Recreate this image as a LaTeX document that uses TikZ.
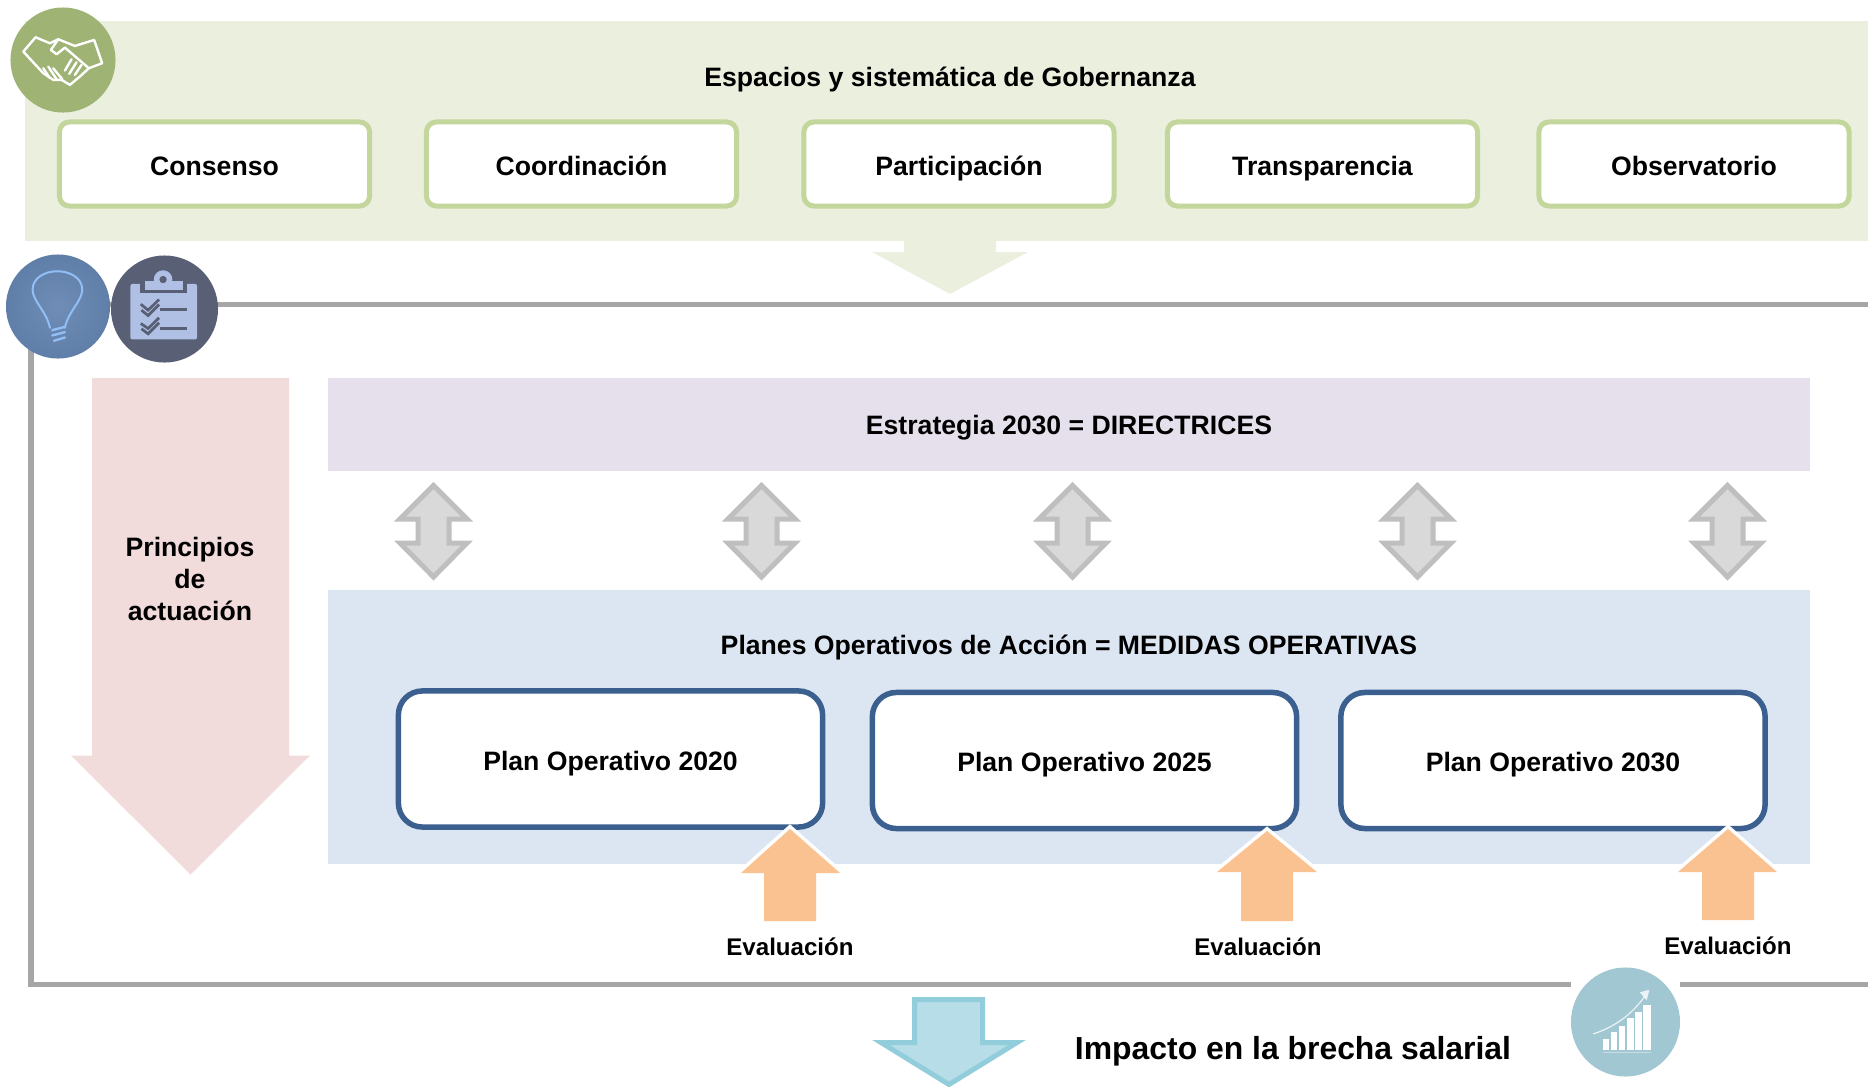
\documentclass[tikz,border=0pt]{standalone}
\usepackage{fontspec}
\setmainfont{Liberation Sans}
\usepackage{tikz}
\usetikzlibrary{arrows,shapes,positioning}
\definecolor{panelgreen}{HTML}{EBEFDE}
\definecolor{boxgreen}{HTML}{C3D69B}
\definecolor{iconggreen}{HTML}{9FB374}
\definecolor{panelpink}{HTML}{F2DCDB}
\definecolor{panelpurple}{HTML}{E5E0EC}
\definecolor{panelblue}{HTML}{DCE6F2}
\definecolor{boxblue}{HTML}{3B6090}
\definecolor{arroworange}{HTML}{FBC291}
\definecolor{arrowgray}{HTML}{D9D9D9}
\definecolor{arrowgrayline}{HTML}{BFBFBF}
\definecolor{arrowcyan}{HTML}{B7DDE8}
\definecolor{arrowcyanline}{HTML}{92CDDC}
\definecolor{framegray}{HTML}{A6A6A6}
\definecolor{frameshade}{HTML}{E6E6E6}
\definecolor{iconblue}{HTML}{5F7EA8}
\definecolor{iconbluein}{HTML}{6F8DB6}
\definecolor{icondark}{HTML}{595F75}
\definecolor{iconlight}{HTML}{AFC0E4}
\definecolor{iconbulb}{HTML}{90BEF5}
\definecolor{iconteal}{HTML}{A1C7D2}
\tikzset{
  boldtext/.style={font=\bfseries\fontsize{7.57}{9.1}\selectfont,text=black,align=center},
  linetext/.style={boldtext,text height=5.5pt,text depth=0pt},
  greenbox/.style={boldtext,text height=6.3pt,text depth=0pt,draw=boxgreen,line width=.05cm,fill=white,rounded corners=.1cm,
    minimum width=3.1cm,minimum height=.84cm},
  planbox/.style={boldtext,text height=6.3pt,text depth=0pt,draw=boxblue,line width=.055cm,fill=white,rounded corners=.24cm,
    minimum width=4.24cm,minimum height=1.36cm},
  evaltext/.style={boldtext,font=\bfseries\fontsize{6.85}{8}\selectfont,text height=5.4pt,text depth=0pt},
  impacttext/.style={boldtext,font=\bfseries\fontsize{9.07}{11}\selectfont,text height=7.1pt,text depth=0pt},
  iconcircle/.style={circle,inner sep=0pt},
  framepath/.style={framegray,line width=.05cm},
  graydouble/.style={fill=arrowgray,draw=arrowgrayline,line width=.05cm},
  orangearrow/.style={fill=arroworange,preaction={draw=white,line width=.07cm}},
  iconzoom/.style={x=.0033333cm,y=-.0033333cm}
}
\begin{document}
\begin{tikzpicture}[x=.01cm,y=-.01cm]
  \useasboundingbox (0,0) rectangle (1868,1087);
  \clip (0,0) rectangle (1868,1087);
  %green panel and its arrow
  \fill[panelgreen] (25,21) rectangle (1868,240.5);
  \fill[panelgreen] (904,239) -- (904,252) -- (872,252) -- (950,294) -- (1028,252) -- (996,252) -- (996,239) -- cycle;
  \node[linetext] (gobernanza) at (950,77) {Espacios y sistemática de Gobernanza};
  \node[greenbox] (consenso) at (214.5,164) {Consenso};
  \node[greenbox] (coordinacion) at (581.5,164) {Coordinación};
  \node[greenbox] (participacion) at (959,164) {Participación};
  \node[greenbox] (transparencia) at (1322.5,164) {Transparencia};
  \node[greenbox] (observatorio) at (1694,164) {Observatorio};

  %draw frame
  \coordinate (frametopright) at (1868,304);
  \coordinate (frametopleft) at (31,304);
  \coordinate (framebotleft) at (31,984);
  \coordinate (framebotright) at (1868,984);
  \draw[frameshade,line width=.05cm,shift={(1,3)}] (frametopright) -- (frametopleft) -- (framebotleft) -- (framebotright);
  \draw[framepath] (frametopright) -- (frametopleft) -- (framebotleft) -- (framebotright);
  \fill[white] (1571,970) rectangle (1680,1076);

  %principios arrow
  \fill[panelpink] (92,378) -- (289,378) -- (289,755.5) -- (310,755.5) -- (190.5,874.5) -- (71,755.5) -- (92,755.5) -- cycle;
  \node[boldtext] (principios) at (190,579) {Principios\\de\\actuación};

  %directrices
  \fill[panelpurple] (328,378) rectangle (1810,471);
  \node[linetext] (estrategia) at (1069,425) {Estrategia 2030 = DIRECTRICES};

  %double arrows
  \draw[graydouble,shift={(433.5,0)}] (0,485.5) -- (33.5,519) -- (15.5,519) -- (15.5,543) -- (33.5,543) -- (0,577) -- (-33.5,543) -- (-15.5,543) -- (-15.5,519) -- (-33.5,519) -- cycle;
  \draw[graydouble,shift={(761.5,0)}] (0,485.5) -- (33.5,519) -- (15.5,519) -- (15.5,543) -- (33.5,543) -- (0,577) -- (-33.5,543) -- (-15.5,543) -- (-15.5,519) -- (-33.5,519) -- cycle;
  \draw[graydouble,shift={(1072.5,0)}] (0,485.5) -- (33.5,519) -- (15.5,519) -- (15.5,543) -- (33.5,543) -- (0,577) -- (-33.5,543) -- (-15.5,543) -- (-15.5,519) -- (-33.5,519) -- cycle;
  \draw[graydouble,shift={(1417.5,0)}] (0,485.5) -- (33.5,519) -- (15.5,519) -- (15.5,543) -- (33.5,543) -- (0,577) -- (-33.5,543) -- (-15.5,543) -- (-15.5,519) -- (-33.5,519) -- cycle;
  \draw[graydouble,shift={(1727.5,0)}] (0,485.5) -- (33.5,519) -- (15.5,519) -- (15.5,543) -- (33.5,543) -- (0,577) -- (-33.5,543) -- (-15.5,543) -- (-15.5,519) -- (-33.5,519) -- cycle;

  %planes operativos
  \fill[panelblue] (328,590) rectangle (1810,863.5);
  \node[linetext] (planes) at (1069,645) {Planes Operativos de Acción = MEDIDAS OPERATIVAS};
  \node[planbox] (plan2020) at (610.5,759) {Plan Operativo 2020};
  \node[planbox] (plan2025) at (1084.5,760.5) {Plan Operativo 2025};
  \node[planbox] (plan2030) at (1553,760.5) {Plan Operativo 2030};

  %evaluation arrows
  \fill[orangearrow] (790,829) -- (840,873) -- (816,873) -- (816,921) -- (764,921) -- (764,873) -- (741,873) -- cycle;
  \fill[orangearrow] (1267,831) -- (1317,872) -- (1293,872) -- (1293,921) -- (1241,921) -- (1241,872) -- (1217,872) -- cycle;
  \fill[orangearrow] (1728,829) -- (1777,872) -- (1754,872) -- (1754,920) -- (1702,920) -- (1702,872) -- (1678,872) -- cycle;
  \node[evaltext] (eval1) at (790,946) {Evaluación};
  \node[evaltext] (eval2) at (1258,946) {Evaluación};
  \node[evaltext] (eval3) at (1728,945) {Evaluación};

  %impact arrow
  \draw[fill=arrowcyan,draw=arrowcyanline,line width=.05cm] (914.5,999.5) -- (982.5,999.5) -- (982.5,1042.5) -- (1017,1042.5) -- (949,1084.5) -- (881,1042.5) -- (914.5,1042.5) -- cycle;
  \node[impacttext] (impacto) at (1293,1047) {Impacto en la brecha salarial};

  %icon circles
  \node[iconcircle,fill=iconggreen,minimum size=1.05cm] (handshake) at (63,60) {};
  \node[iconcircle,inner color=iconbluein,outer color=iconblue,minimum size=1.04cm] (bulb) at (58,306.5) {};
  \node[iconcircle,fill=icondark,minimum size=1.07cm] (clipboard) at (164.5,309) {};
  \node[iconcircle,fill=iconteal,minimum size=1.09cm] (chart) at (1625.5,1022) {};

  %handshake lines
  \begin{scope}[iconzoom,white,line width=.024cm,line join=round,line cap=round]
    \draw (70,155) -- (107,112) -- (150,130) -- (175,118) -- (225,138) -- (283,120) -- (307,190) -- (267,205) -- (240,230) -- (210,255) -- (185,240) -- (160,240) -- (130,220) -- cycle;
    \draw (175,118) -- (153,150) -- (170,163) -- (195,143) -- (267,205);
    \draw (245,195) -- (225,225);
    \draw (230,187) -- (208,222);
    \draw (215,178) -- (195,212);
    \draw (130,205) -- (150,235);
    \draw (145,200) -- (170,238);
    \draw (160,205) -- (187,238);
  \end{scope}

  %bulb lines
  \begin{scope}[iconzoom,iconbulb,line width=.02cm,line cap=round]
    \draw (150,985) .. controls (140,935) and (98,905) .. (98,870) .. controls (98,835) and (135,815) .. (172,815) .. controls (210,815) and (247,835) .. (247,870) .. controls (247,905) and (205,935) .. (195,985);
    \draw[line width=.024cm] (157,992) -- (195,982);
    \draw[line width=.024cm] (157,1008) -- (195,998);
    \draw[line width=.024cm] (162,1024) -- (195,1014);
  \end{scope}

  %clipboard
  \begin{scope}[iconzoom]
    \fill[iconlight,rounded corners=.02cm] (392,853) rectangle (592,1020);
    \fill[icondark] (422,845) rectangle (563,880);
    \fill[iconlight] (435,845) rectangle (550,870);
    \fill[iconlight] (490,840) circle (28);
    \fill[icondark] (490,840) circle (11);
    \draw[icondark,line width=.027cm] (423,914) -- (445,932) -- (478,900);
    \draw[icondark,line width=.027cm] (425,932) -- (445,948) -- (478,915);
    \draw[icondark,line width=.027cm] (423,972) -- (445,987) -- (478,955);
    \draw[icondark,line width=.027cm] (425,988) -- (445,1003) -- (478,970);
    \draw[icondark,line width=.028cm] (480,930) -- (563,930);
    \draw[icondark,line width=.028cm] (480,987) -- (563,987);
  \end{scope}

  %chart
  \begin{scope}[shift={(1500,800)},iconzoom]
    \fill[white] (310,718) rectangle (328,752);
    \fill[white] (334,697) rectangle (352,752);
    \fill[white] (358,678) rectangle (376,752);
    \fill[white] (382,655) rectangle (402,752);
    \fill[white] (407,637) rectangle (428,752);
    \fill[white] (431,615) rectangle (455,752);
    \draw[white,opacity=.4,line width=.01cm] (310,758) -- (455,758);
    \draw[white,opacity=.8,line width=.012cm] (280,703) .. controls (350,680) and (400,640) .. (436,588);
    \fill[white,opacity=.8] (449,570) -- (420,578) -- (441,602) -- cycle;
  \end{scope}
\end{tikzpicture}
\end{document}
